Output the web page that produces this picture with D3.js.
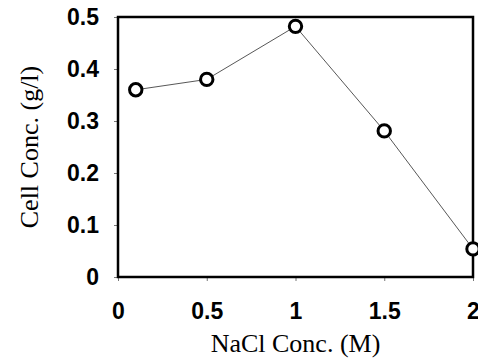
<!DOCTYPE html>
<html>
<head>
<meta charset="utf-8">
<script src="https://cdn.jsdelivr.net/npm/d3@7/dist/d3.min.js"></script>
<style>
	body { margin: 0; background: #fff; }
	svg { display: block; }
	.tick text { font-family: "Liberation Sans", Arial, sans-serif; font-weight: bold; font-size: 23px; fill: #000; }
	.title { font-family: "Liberation Serif", "Times New Roman", serif; font-size: 26px; fill: #000; }
</style>
</head>
<body>
<svg id="chart" width="478" height="360"></svg>
<script>
	// data
	var nacl	= [0.1, 0.5, 1.0, 1.5, 2.0];
	var cellConc	= [0.36, 0.38, 0.482, 0.281, 0.054];
	var xTicks	= [0, 0.5, 1, 1.5, 2];
	var yTicks	= [0, 0.1, 0.2, 0.3, 0.4, 0.5];

	var	width	= 478, height = 360,
		margin	= {top: 17, right: 5, bottom: 83, left: 118},
		w	= width - margin.left - margin.right,
		h	= height - margin.top - margin.bottom;

	var svg = d3.select("#chart");
	var g = svg.append("g").attr("transform", "translate(" + margin.left + "," + margin.top + ")");

	var x = d3.scaleLinear().domain([0, 2]).range([0, w]);
	var y = d3.scaleLinear().domain([0, 0.5]).range([h, 0]);

	function styleAxis(a) {
		a.select(".domain").remove();
		a.selectAll(".tick line").attr("stroke", "#777").attr("stroke-width", 1);
	}

	g.append("g").attr("class", "x axis")
		.attr("transform", "translate(0," + h + ")")
		.call(d3.axisBottom(x).tickValues(xTicks).tickSize(4).tickPadding(22).tickFormat(d3.format("")))
		.call(styleAxis);

	g.append("g").attr("class", "y axis")
		.call(d3.axisLeft(y).tickValues(yTicks).tickSize(4).tickPadding(15).tickFormat(d3.format("")))
		.call(styleAxis);

	// frame
	g.append("rect")
		.attr("x", 0).attr("y", 0).attr("width", w).attr("height", h)
		.attr("fill", "none").attr("stroke", "#000").attr("stroke-width", 2.5);

	var pts = nacl.map(function(d, i) { return [d, cellConc[i]]; });

	g.append("path")
		.datum(pts)
		.attr("fill", "none").attr("stroke", "#444").attr("stroke-width", 0.9)
		.attr("d", d3.line().x(function(d) { return x(d[0]); }).y(function(d) { return y(d[1]); }));

	g.selectAll("circle.pt").data(pts).enter().append("circle")
		.attr("class", "pt")
		.attr("cx", function(d) { return x(d[0]); })
		.attr("cy", function(d) { return y(d[1]); })
		.attr("r", 6.2)
		.attr("fill", "#fff").attr("stroke", "#000").attr("stroke-width", 3);

	svg.append("text").attr("class", "title")
		.attr("x", margin.left + w / 2).attr("y", 352)
		.attr("text-anchor", "middle")
		.text("NaCl Conc. (M)");

	svg.append("text").attr("class", "title")
		.attr("transform", "translate(38," + (margin.top + h / 2) + ") rotate(-90)")
		.attr("text-anchor", "middle")
		.text("Cell Conc. (g/l)");
</script>
</body>
</html>
